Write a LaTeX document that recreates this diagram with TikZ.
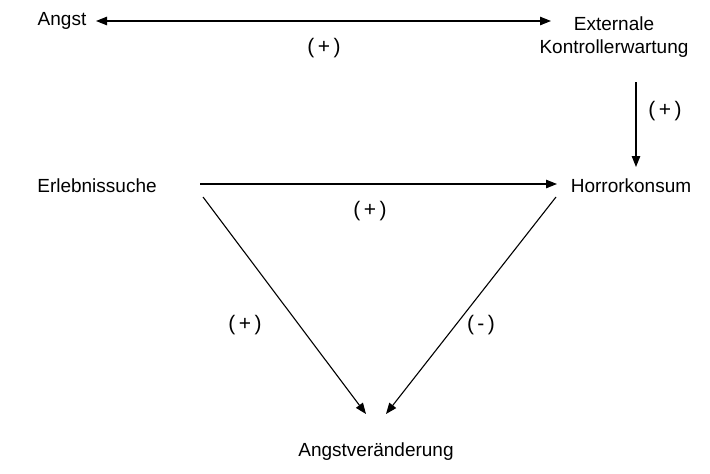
\documentclass[tikz,border=0pt]{standalone}
\usepackage{fontspec}
\setmainfont{Liberation Sans}
\usetikzlibrary{arrows.meta}
\begin{document}
\begin{tikzpicture}[x=1pt,y=-1pt,
  lbl/.style={font=\fontsize{19}{23}\selectfont, inner sep=0pt},
  sgn/.style={font=\fontsize{21}{23}\selectfont, inner sep=0pt},
  arr/.style={line width=1.1pt, -{Triangle[length=11pt,width=8.5pt]}},
  barr/.style={line width=1.1pt, {Triangle[length=11pt,width=8.5pt]}-{Triangle[length=11pt,width=8.5pt]}}]
\useasboundingbox (0,0) rectangle (710,474);
\node[lbl] (angst) at (62,21) {Angst};
\node[lbl, align=center] (ext) at (614,37) {Externale\\Kontrollerwartung};
\node[lbl] (erl) at (97,186) {Erlebnissuche};
\node[lbl] (hor) at (631,186) {Horrorkonsum};
\node[lbl] (av) at (376,452) {Angstveränderung};
\coordinate (a1) at (96,21);
\coordinate (a2) at (551,21);
\coordinate (v1) at (636,82);
\coordinate (v2) at (636,167);
\coordinate (h1) at (200,184);
\coordinate (h2) at (557,184);
\coordinate (l1) at (203,197);
\coordinate (l2) at (366,414);
\coordinate (r1) at (556,197);
\coordinate (r2) at (386,414);
\draw[barr] (a1) -- (a2);
\draw[arr] (v1) -- (v2);
\draw[arr] (h1) -- (h2);
\draw[arr] (l1) -- (l2);
\draw[arr] (r1) -- (r2);
\node[sgn] (s1) at (324,48) {(\,+\,)};
\node[sgn] (s2) at (665,111) {(\,+\,)};
\node[sgn] (s3) at (370,211) {(\,+\,)};
\node[sgn] (s4) at (245,325) {(\,+\,)};
\node[sgn] (s5) at (481,325) {(\,-\,)};
\end{tikzpicture}
\end{document}
